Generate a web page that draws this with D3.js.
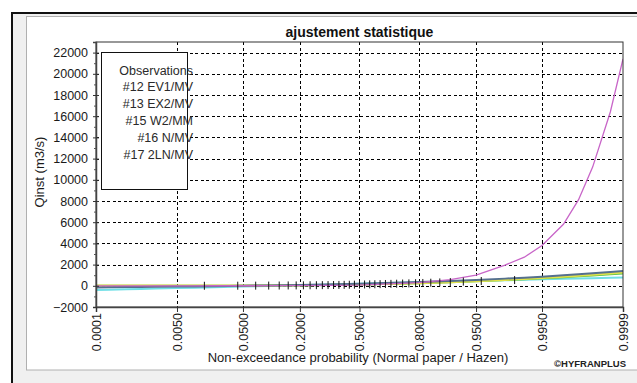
<!DOCTYPE html>
<html>
<head>
<meta charset="utf-8">
<script src="https://cdn.jsdelivr.net/npm/d3@7"></script>
<style>
  body { margin: 0; background: #fff; }
  svg { display: block; font-family: "Liberation Sans", Arial, sans-serif; }
</style>
</head>
<body>
<div id="chart"></div>
<script>
// probabilities where the fitted curves are evaluated
const probs = [0.0001, 0.0002, 0.0005, 0.001, 0.002, 0.005, 0.01, 0.02, 0.05, 0.1, 0.2,
               0.5, 0.8, 0.9, 0.95, 0.98, 0.99, 0.995, 0.998, 0.999, 0.9995, 0.9998, 0.9999];

// fitted quantiles (m3/s)
const ev1 = [-150, -139, -124, -111, -97, -75, -56, -34, 2, 37, 86, 200, 353, 454, 551, 677, 771, 865, 989, 1082, 1176, 1300, 1393];
const ex2 = [20, 20, 20, 20, 20, 21, 21, 23, 27, 34, 50, 114, 237, 331, 424, 548, 642, 735, 859, 952, 1046, 1170, 1263];
const w2  = [0, 0, 0, 0, 1, 1, 2, 5, 10, 20, 40, 111, 239, 331, 420, 536, 621, 705, 815, 899, 980, 1086, 1166];
const nrm = [-400, -371, -332, -299, -265, -217, -177, -134, -68, -10, 60, 195, 330, 400, 458, 524, 567, 607, 655, 689, 722, 761, 790];
const ln2 = [0, 0, 0, 1, 1, 1, 2, 3, 5, 9, 18, 68, 300, 580, 1000, 1950, 2700, 3800, 5800, 8100, 11200, 16400, 21400];

// observed flows, sorted
const obs = [3, 8, 14, 20, 26, 32, 38, 44, 50, 56, 62, 68, 75, 82, 90, 98, 106, 115, 125, 135,
             146, 158, 170, 183, 197, 212, 228, 246, 266, 290, 318, 352, 395, 450, 540];

const xTicks = [0.0001, 0.005, 0.05, 0.2, 0.5, 0.8, 0.95, 0.995, 0.9999];
const yTicks = d3.range(-2000, 22001, 2000);
const legendLabels = ["Observations", "#12 EV1/MV", "#13 EX2/MV", "#15 W2/MM", "#16 N/MV", "#17 2LN/MV"];

const series = [
  { name: "#16 N/MV",   values: nrm, color: "#6fdfe6", w: 2 },
  { name: "#15 W2/MM",  values: w2,  color: "#5cc24a", w: 2 },
  { name: "#13 EX2/MV", values: ex2, color: "#e2e24a", w: 2 },
  { name: "#12 EV1/MV", values: ev1, color: "#55708e", w: 2 },
  { name: "#17 2LN/MV", values: ln2, color: "#c865c8", w: 1.3 }
];

// inverse normal CDF (Acklam) for normal probability paper
function qnorm(p) {
  const a = [-39.69683028665376, 220.9460984245205, -275.9285104469687, 138.3577518672690, -30.66479806614716, 2.506628277459239];
  const b = [-54.47609879822406, 161.5858368580409, -155.6989798598866, 66.80131188771972, -13.28068155288572];
  const c = [-0.007784894002430293, -0.3223964580411365, -2.400758277161838, -2.549732539343734, 4.374664141464968, 2.938163982698783];
  const d = [0.007784695709041462, 0.3224671290700398, 2.445134137142996, 3.754408661907416];
  const pl = 0.02425;
  let q, r;
  if (p < pl) {
    q = Math.sqrt(-2 * Math.log(p));
    return (((((c[0]*q+c[1])*q+c[2])*q+c[3])*q+c[4])*q+c[5]) / ((((d[0]*q+d[1])*q+d[2])*q+d[3])*q+1);
  }
  if (p > 1 - pl) {
    q = Math.sqrt(-2 * Math.log(1 - p));
    return -(((((c[0]*q+c[1])*q+c[2])*q+c[3])*q+c[4])*q+c[5]) / ((((d[0]*q+d[1])*q+d[2])*q+d[3])*q+1);
  }
  q = p - 0.5; r = q * q;
  return (((((a[0]*r+a[1])*r+a[2])*r+a[3])*r+a[4])*r+a[5])*q / (((((b[0]*r+b[1])*r+b[2])*r+b[3])*r+b[4])*r+1);
}

const width = 637, height = 383;
const plot = { left: 96, right: 623, top: 42, bottom: 307 };

const svg = d3.select("#chart").append("svg")
    .attr("width", width)
    .attr("height", height);

// window frame + panel
svg.append("rect")
    .attr("x", 12).attr("y", 13).attr("width", 700).attr("height", 400)
    .attr("fill", "#f0f0f0").attr("stroke", "#111").attr("stroke-width", 2);
svg.append("rect")
    .attr("x", 26.5).attr("y", 16.5).attr("width", 700).attr("height", 353.5)
    .attr("fill", "#fff").attr("stroke", "#b0b0b0");

const z = d3.scaleLinear()
    .domain([qnorm(0.0001), qnorm(0.9999)])
    .range([plot.left, plot.right]);
const x = p => z(qnorm(p));
const y = d3.scaleLinear()
    .domain([-2000, 23000])
    .range([plot.bottom, plot.top]);

svg.append("defs").append("clipPath").attr("id", "clip")
  .append("rect")
    .attr("x", plot.left).attr("y", plot.top)
    .attr("width", plot.right - plot.left).attr("height", plot.bottom - plot.top);

// grid
const grid = svg.append("g")
    .attr("stroke", "#000")
    .attr("stroke-width", 1)
    .attr("stroke-dasharray", "3,2.5")
    .attr("shape-rendering", "crispEdges");
grid.selectAll("line.h")
  .data(yTicks.filter(d => d > -2000))
  .join("line")
    .attr("class", "h")
    .attr("x1", plot.left).attr("x2", plot.right)
    .attr("y1", d => Math.round(y(d)) + 0.5).attr("y2", d => Math.round(y(d)) + 0.5);
grid.selectAll("line.v")
  .data(xTicks.slice(1, -1))
  .join("line")
    .attr("class", "v")
    .attr("x1", d => Math.round(x(d)) + 0.5).attr("x2", d => Math.round(x(d)) + 0.5)
    .attr("y1", plot.top).attr("y2", plot.bottom);

// curves
const line = d3.line()
    .x((d, i) => x(probs[i]))
    .y(d => y(d));
const curves = svg.append("g").attr("clip-path", "url(#clip)");
curves.selectAll("path")
  .data(series)
  .join("path")
    .attr("fill", "none")
    .attr("stroke", d => d.color)
    .attr("stroke-width", d => d.w)
    .attr("d", d => line(d.values));

// observations (Hazen plotting positions)
const n = obs.length;
curves.append("g")
    .attr("stroke", "#111")
    .attr("stroke-width", 1)
  .selectAll("line")
  .data(obs)
  .join("line")
    .attr("x1", (d, i) => x((i + 0.5) / n))
    .attr("x2", (d, i) => x((i + 0.5) / n))
    .attr("y1", d => y(d) - 4)
    .attr("y2", d => y(d) + 4);

// plot frame
svg.append("rect")
    .attr("x", plot.left).attr("y", plot.top)
    .attr("width", plot.right - plot.left).attr("height", plot.bottom - plot.top)
    .attr("fill", "none").attr("stroke", "#333").attr("stroke-width", 1);

// y axis
const yAxis = svg.append("g")
    .attr("transform", `translate(${plot.left},0)`)
    .call(d3.axisLeft(y).tickValues(yTicks).tickSize(3).tickPadding(5).tickFormat(d3.format("d")));
yAxis.select(".domain").attr("stroke", "#444").attr("stroke-width", 1.5);
yAxis.selectAll("text").attr("font-size", 12.5).attr("fill", "#1a1a1a").attr("font-family", null);
yAxis.selectAll(".tick line").attr("stroke", "#333");
svg.append("g")
    .attr("transform", `translate(${plot.left},0)`)
    .call(d3.axisRight(y).tickValues(yTicks).tickSize(3).tickFormat(""))
    .call(g => g.select(".domain").remove())
    .selectAll("line").attr("stroke", "#333");
svg.append("g")
    .attr("transform", `translate(${plot.left},0)`)
    .call(d3.axisLeft(y).tickValues(d3.range(-1000, 23000, 2000)).tickSize(2).tickFormat(""))
    .call(g => g.select(".domain").remove())
    .selectAll("line").attr("stroke", "#555");

// x axis
const xAxis = svg.append("g")
    .attr("transform", `translate(0,${plot.bottom})`)
    .call(d3.axisBottom(z).tickValues(xTicks.map(qnorm)).tickSize(5)
      .tickFormat((d, i) => xTicks[i].toFixed(4)));
xAxis.select(".domain").attr("stroke", "#444").attr("stroke-width", 1.5);
xAxis.selectAll(".tick line").attr("stroke", "#333");
xAxis.selectAll("text")
    .attr("font-size", 12.5)
    .attr("font-family", null)
    .attr("fill", "#1a1a1a")
    .attr("transform", "rotate(-90)")
    .attr("text-anchor", "end")
    .attr("x", -6)
    .attr("y", 0)
    .attr("dy", "0.35em");

// titles
svg.append("text")
    .attr("x", (plot.left + plot.right) / 2).attr("y", 37)
    .attr("text-anchor", "middle")
    .attr("font-size", 14).attr("font-weight", "bold").attr("fill", "#111")
    .text("ajustement statistique");
svg.append("text")
    .attr("transform", "translate(44,172) rotate(-90)")
    .attr("text-anchor", "middle")
    .attr("font-size", 13).attr("fill", "#1a1a1a")
    .text("Qinst (m3/s)");
svg.append("text")
    .attr("x", 358).attr("y", 362)
    .attr("text-anchor", "middle")
    .attr("font-size", 13).attr("fill", "#1a1a1a")
    .text("Non-exceedance probability (Normal paper / Hazen)");
svg.append("text")
    .attr("x", 626).attr("y", 367)
    .attr("text-anchor", "end")
    .attr("font-size", 9.5).attr("font-weight", "bold").attr("fill", "#222")
    .text("©HYFRANPLUS");

// legend
svg.append("rect")
    .attr("x", 101.5).attr("y", 52.5).attr("width", 86).attr("height", 137)
    .attr("fill", "#fff").attr("stroke", "#111");
svg.append("g")
  .selectAll("text")
  .data(legendLabels)
  .join("text")
    .attr("x", 193)
    .attr("y", (d, i) => 74.5 + i * 16.9)
    .attr("text-anchor", "end")
    .attr("font-size", 12.5)
    .attr("fill", "#2a2a2a")
    .text(d => d);
</script>
</body>
</html>
